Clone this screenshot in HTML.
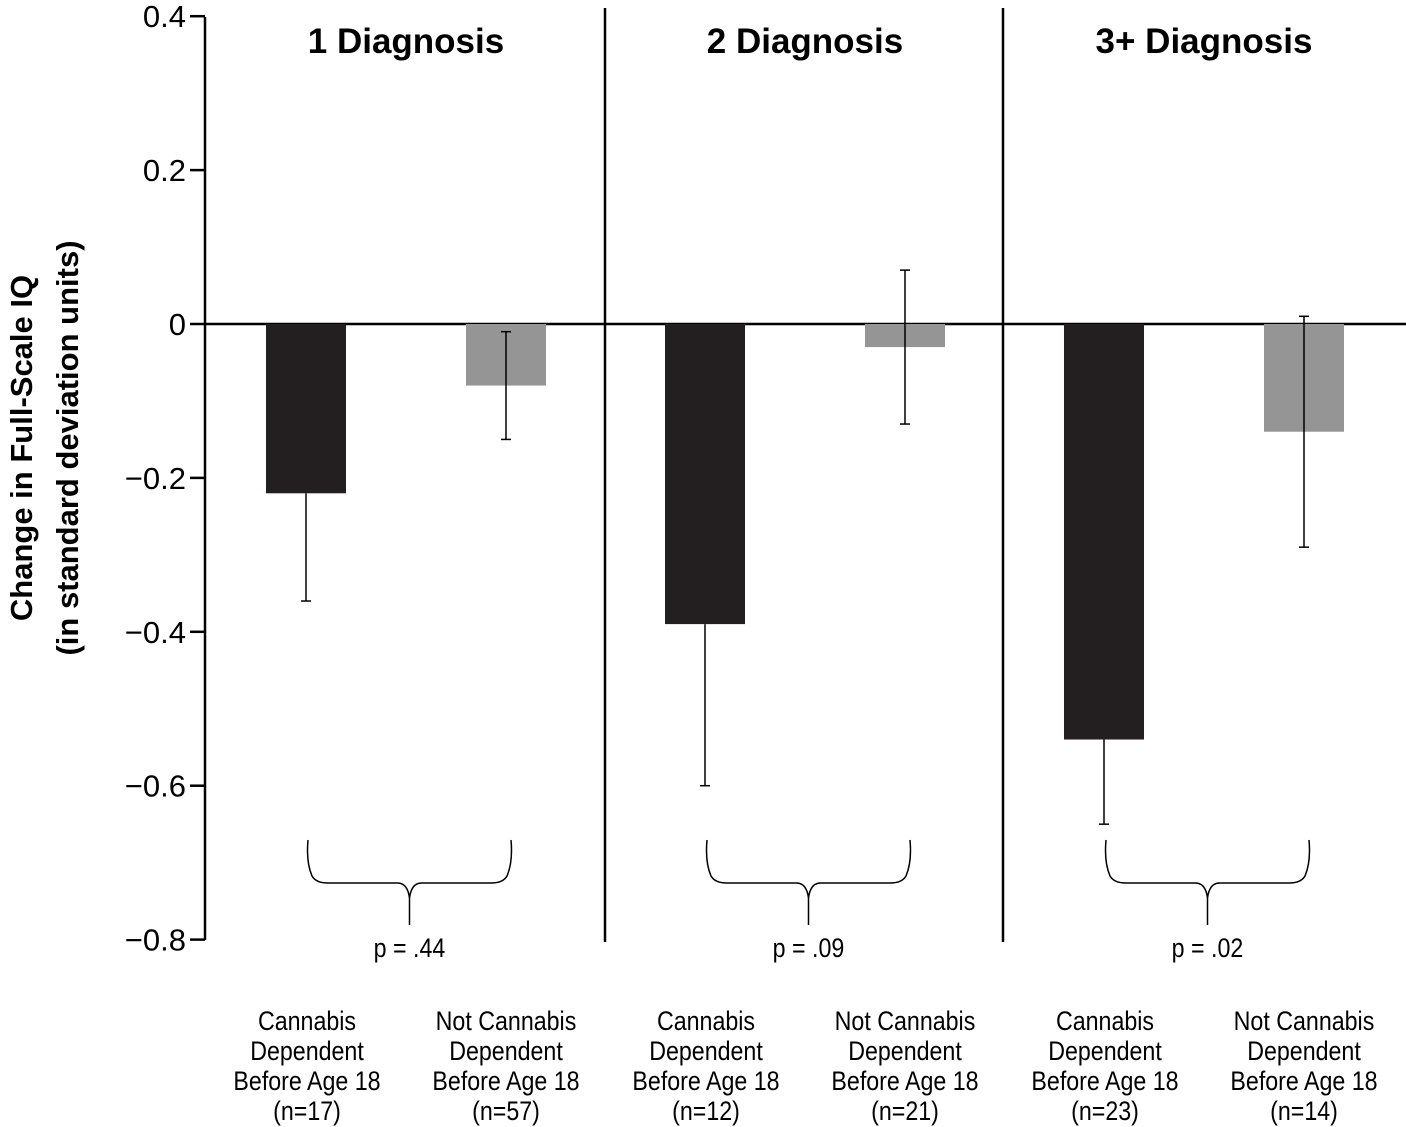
<!DOCTYPE html>
<html><head><meta charset="utf-8"><style>
html,body{margin:0;padding:0;background:#fff;}
svg{display:block;font-family:"Liberation Sans",sans-serif;}
</style></head><body>
<svg id="chart" width="1406" height="1127" viewBox="0 0 1406 1127">
<g id="axes"></g>
<g id="marks"></g>
<g id="labels"></g>
</svg>
<script>
const groups = ["1 Diagnosis","2 Diagnosis","3+ Diagnosis"];
const pValues = ["p = .44","p = .09","p = .02"];
const cannabisValues = [-0.22,-0.39,-0.54];
const cannabisErrLow = [-0.36,-0.60,-0.65];
const notValues = [-0.08,-0.03,-0.14];
const notErrHigh = [-0.01,0.07,0.01];
const notErrLow = [-0.15,-0.13,-0.29];
const cannabisN = ["(n=17)","(n=12)","(n=23)"];
const notN = ["(n=57)","(n=21)","(n=14)"];
const yTicks = [0.4,0.2,0,-0.2,-0.4,-0.6,-0.8];

const NS="http://www.w3.org/2000/svg";
function y(v){return 324 - v*769.5;}
function groupX(i){return 205 + i*399;}
function mk(parent,tag,attrs,text){const e=document.createElementNS(NS,tag);for(const k in attrs)e.setAttribute(k,attrs[k]);if(text!==undefined)e.textContent=text;document.getElementById(parent).appendChild(e);return e;}

let e=mk('axes','line',{x1:205,y1:17,x2:205,y2:940,stroke:'#000','stroke-width':2.5});


yTicks.forEach(t=>{
  let l=mk('axes','line',{x1:190,y1:y(t),x2:205,y2:y(t),stroke:'#000','stroke-width':2.5});
  
  
  let s=t===0?'0':(t<0?'\u2212':'')+Math.abs(t).toFixed(1);
  let tx=mk('axes','text',{x:186,y:y(t)+11,'text-anchor':'end','font-size':31},s);
  
  
});
e=mk('axes','line',{x1:205,y1:324,x2:1406,y2:324,stroke:'#000','stroke-width':2.5});


[605,1003].forEach(x=>{
  let l=mk('axes','line',{x1:x,y1:8,x2:x,y2:942,stroke:'#000','stroke-width':2.5});
  
  
});
let yt=mk('axes','text',{transform:'translate(32,448) rotate(-90)','text-anchor':'middle','font-size':31,'font-weight':'bold'},'Change in Full-Scale IQ');


yt=mk('axes','text',{transform:'translate(78,448) rotate(-90)','text-anchor':'middle','font-size':31,'font-weight':'bold'},'(in standard deviation units)');



function cap(x,v){let c=mk('marks','line',{x1:x-5,y1:y(v),x2:x+5,y2:y(v),stroke:'#000','stroke-width':1.5});}

groups.forEach((g,i)=>{
  const gx=groupX(i);
  let t=mk('labels','text',{x:gx+201,y:53,'text-anchor':'middle','font-size':35,'font-weight':'bold'},g);
  
  
  const cx=gx+101, nx=gx+301;
  let b=mk('marks','rect',{x:cx-40,y:324,width:80,height:y(cannabisValues[i])-324,fill:'#231f20'});
  
  
  let w=mk('marks','line',{x1:cx,y1:y(cannabisValues[i]),x2:cx,y2:y(cannabisErrLow[i]),stroke:'#000','stroke-width':1.5});
  
  
  cap(cx,cannabisErrLow[i]);
  b=mk('marks','rect',{x:nx-40,y:324,width:80,height:y(notValues[i])-324,fill:'#959595'});
  
  
  w=mk('marks','line',{x1:nx,y1:y(notErrHigh[i]),x2:nx,y2:y(notErrLow[i]),stroke:'#000','stroke-width':1.5});
  
  
  cap(nx,notErrHigh[i]);cap(nx,notErrLow[i]);
  const l=gx+103,r=gx+306,m=(l+r)/2;
  let br=mk('marks','path',{d:`M${l},840 Q${l-2},862 ${l+4},876 Q${l+8},883 ${l+20},883 L${m-12},883 Q${m-2},883 ${m},898 L${m},925 M${m},898 Q${m+2},883 ${m+12},883 L${r-20},883 Q${r-8},883 ${r-4},876 Q${r+2},862 ${r},840`,fill:'none',stroke:'#000','stroke-width':1.5});
  
  
  t=mk('labels','text',{transform:`translate(${m},957) scale(0.86,1)`,'text-anchor':'middle','font-size':27},pValues[i]);
  
  
  const cl=["Cannabis","Dependent","Before Age 18",cannabisN[i]];
  const nl=["Not Cannabis","Dependent","Before Age 18",notN[i]];
  cl.forEach((s,k)=>{let q=mk('labels','text',{transform:`translate(${cx+1},${1030+k*30}) scale(0.86,1)`,'text-anchor':'middle','font-size':27},s);});
  nl.forEach((s,k)=>{let q=mk('labels','text',{transform:`translate(${nx},${1030+k*30}) scale(0.86,1)`,'text-anchor':'middle','font-size':27},s);});
});
</script>
</body></html>
